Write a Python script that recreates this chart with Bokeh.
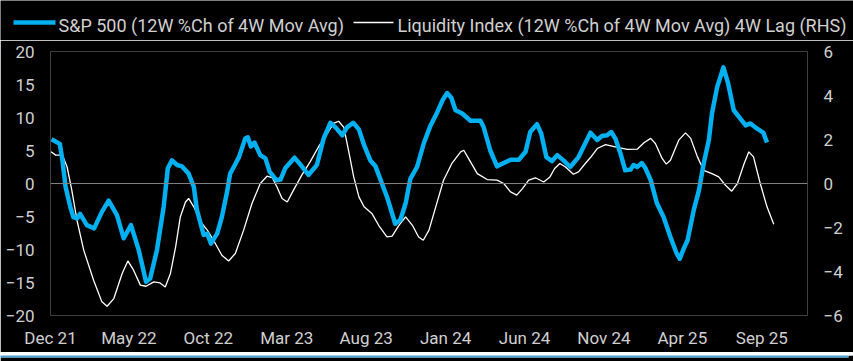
import pandas as pd
from bokeh.plotting import figure
from bokeh.models import (Range1d, LinearAxis, FixedTicker, DatetimeTickFormatter, Span)
from bokeh.core.properties import value
from bokeh.embed import file_html
from bokeh.resources import INLINE

# ---- data ----
spx_dates = [
    "2021-12-03", "2021-12-19", "2021-12-24", "2021-12-30", "2022-01-08", "2022-01-14",
    "2022-01-21", "2022-01-27", "2022-02-09", "2022-02-23", "2022-03-10", "2022-03-23",
    "2022-04-08", "2022-04-21", "2022-05-05", "2022-05-20", "2022-06-03", "2022-06-11",
    "2022-06-24", "2022-07-07", "2022-07-15", "2022-07-23", "2022-08-02", "2022-08-11",
    "2022-08-24", "2022-09-03", "2022-09-09", "2022-09-22", "2022-09-29", "2022-10-06",
    "2022-10-18", "2022-10-27", "2022-11-06", "2022-11-12", "2022-11-19", "2022-11-29",
    "2022-12-11", "2022-12-16", "2022-12-22", "2022-12-29", "2023-01-09", "2023-01-19",
    "2023-01-27", "2023-02-09", "2023-02-17", "2023-02-26", "2023-03-16", "2023-03-27",
    "2023-04-12", "2023-04-28", "2023-05-11", "2023-05-24", "2023-06-03", "2023-06-16",
    "2023-06-25", "2023-07-07", "2023-07-18", "2023-07-28", "2023-08-09", "2023-08-19",
    "2023-08-29", "2023-09-10", "2023-09-26", "2023-10-06", "2023-10-16", "2023-10-25",
    "2023-11-07", "2023-11-20", "2023-12-03", "2023-12-16", "2023-12-26", "2024-01-04",
    "2024-01-12", "2024-01-20", "2024-02-02", "2024-02-18", "2024-03-08", "2024-03-14",
    "2024-03-27", "2024-04-09", "2024-04-22", "2024-05-05", "2024-05-21", "2024-06-03",
    "2024-06-12", "2024-06-25", "2024-07-03", "2024-07-13", "2024-07-24", "2024-08-03",
    "2024-08-15", "2024-08-28", "2024-09-13", "2024-09-26", "2024-10-06", "2024-10-19",
    "2024-10-28", "2024-11-07", "2024-11-15", "2024-11-23", "2024-12-03", "2024-12-12",
    "2024-12-22", "2024-12-28", "2025-01-04", "2025-01-13", "2025-01-20", "2025-01-30",
    "2025-02-11", "2025-02-24", "2025-03-09", "2025-03-21", "2025-03-27", "2025-04-04",
    "2025-04-11", "2025-04-23", "2025-05-03", "2025-05-12", "2025-05-22", "2025-05-28",
    "2025-06-07", "2025-06-19", "2025-06-28", "2025-07-09", "2025-07-22", "2025-08-01",
    "2025-08-10", "2025-08-23", "2025-09-04", "2025-09-11",
]
spx_values = [
    6.7, 6.0, 3.5, -0.5, -3.5, -5.1,
    -5.3, -4.6, -6.3, -6.8, -4.3, -2.6,
    -4.8, -8.3, -6.3, -10.1, -14.9, -14.4,
    -10.1, -3.5, 2.3, 3.5, 2.8, 2.6,
    1.5, -0.5, -4.0, -7.8, -7.6, -9.1,
    -7.6, -5.1, -1.3, 1.5, 2.5, 4.0,
    6.8, 7.0, 5.6, 6.2, 4.3, 3.8,
    1.8, 0.5, 0.6, 2.3, 3.9, 2.9,
    1.3, 2.8, 6.8, 9.2, 8.5, 7.3,
    8.5, 9.2, 8.2, 5.8, 3.5, 2.6,
    0.5, -2.0, -6.1, -5.5, -3.0, 0.7,
    2.5, 6.1, 8.8, 10.8, 12.6, 13.7,
    13.0, 11.1, 10.6, 9.5, 9.5, 8.6,
    5.0, 2.6, 3.1, 3.6, 3.6, 4.8,
    7.8, 9.0, 7.6, 4.0, 3.4, 4.3,
    3.5, 2.5, 4.0, 6.1, 7.7, 6.6,
    7.2, 7.3, 7.8, 6.8, 4.5, 2.0,
    2.1, 2.8, 2.5, 3.1, 2.3, 0.5,
    -3.0, -5.1, -8.1, -10.6, -11.4, -9.8,
    -8.6, -4.0, -1.0, 3.0, 6.6, 10.6,
    14.6, 17.6, 15.2, 11.1, 9.8, 8.8,
    9.1, 8.3, 7.7, 6.2,
]

liq_dates = [
    "2021-12-02", "2021-12-11", "2021-12-24", "2022-01-02", "2022-01-11", "2022-01-21",
    "2022-02-03", "2022-02-22", "2022-03-10", "2022-03-20", "2022-04-02", "2022-04-18",
    "2022-04-29", "2022-05-10", "2022-05-23", "2022-06-03", "2022-06-18", "2022-06-30",
    "2022-07-10", "2022-07-20", "2022-07-30", "2022-08-08", "2022-08-18", "2022-08-24",
    "2022-09-03", "2022-09-16", "2022-09-29", "2022-10-11", "2022-10-27", "2022-11-09",
    "2022-11-22", "2022-12-08", "2022-12-24", "2023-01-09", "2023-01-22", "2023-02-01",
    "2023-02-10", "2023-02-20", "2023-03-02", "2023-03-14", "2023-03-30", "2023-04-15",
    "2023-05-01", "2023-05-18", "2023-05-30", "2023-06-09", "2023-06-19", "2023-06-28",
    "2023-07-08", "2023-07-18", "2023-07-28", "2023-08-12", "2023-08-25", "2023-09-10",
    "2023-09-20", "2023-10-03", "2023-10-16", "2023-10-29", "2023-11-10", "2023-11-19",
    "2023-11-30", "2023-12-12", "2023-12-28", "2024-01-13", "2024-01-30", "2024-02-05",
    "2024-02-14", "2024-03-02", "2024-03-21", "2024-04-09", "2024-04-22", "2024-05-05",
    "2024-05-17", "2024-05-28", "2024-06-09", "2024-06-22", "2024-07-08", "2024-07-20",
    "2024-07-29", "2024-08-08", "2024-08-19", "2024-09-03", "2024-09-13", "2024-09-26",
    "2024-10-06", "2024-10-19", "2024-11-04", "2024-11-27", "2024-12-16", "2025-01-04",
    "2025-01-17", "2025-01-30", "2025-02-08", "2025-02-21", "2025-03-01", "2025-03-09",
    "2025-03-25", "2025-04-07", "2025-04-17", "2025-04-30", "2025-05-12", "2025-05-28",
    "2025-06-10", "2025-06-23", "2025-07-05", "2025-07-16", "2025-07-29", "2025-08-07",
    "2025-08-16", "2025-08-29", "2025-09-11", "2025-09-24",
]
liq_values = [
    1.44, 1.29, 1.29, 0.75, -0.30, -1.67,
    -3.03, -4.40, -5.38, -5.58, -5.23, -4.09,
    -3.52, -3.94, -4.62, -4.67, -4.47, -4.52,
    -4.70, -4.09, -2.88, -1.52, -0.84, -0.68,
    -1.06, -1.74, -2.12, -2.58, -3.26, -3.52,
    -3.18, -2.12, -0.91, 0.00, 0.33, 0.27,
    -0.15, -0.68, -0.84, -0.30, 0.38, 0.98,
    1.66, 2.27, 2.73, 2.83, 2.55, 1.51,
    0.30, -0.61, -1.06, -1.36, -1.90, -2.43,
    -2.39, -1.90, -1.52, -1.90, -2.43, -2.58,
    -2.12, -1.14, 0.15, 0.91, 1.44, 1.51,
    1.14, 0.45, 0.18, 0.15, 0.00, -0.38,
    -0.53, -0.23, 0.15, 0.26, 0.07, 0.30,
    0.68, 0.91, 0.75, 0.42, 0.53, 0.91,
    1.18, 1.59, 1.77, 1.64, 1.55, 1.56,
    1.85, 2.05, 1.82, 1.14, 0.88, 1.06,
    1.97, 2.30, 2.05, 1.21, 0.60, 0.45,
    0.30, -0.08, -0.35, 0.00, 0.91, 1.44,
    1.21, 0.00, -1.06, -1.85,
]

x_tick_dates = ["2021-12-01", "2022-05-01", "2022-10-01", "2023-03-01", "2023-08-01",
                "2024-01-01", "2024-06-01", "2024-11-01", "2025-04-01", "2025-09-01"]
left_ticks = [-20, -15, -10, -5, 0, 5, 10, 15, 20]
right_ticks = [-6, -4, -2, 0, 2, 4, 6]

series_labels = ["S&P 500 (12W %Ch of 4W Mov Avg)",
                 "Liquidity Index (12W %Ch of 4W Mov Avg) 4W Lag (RHS)"]

# ---- styling / layout constants ----
BLUE = "#00b0f0"
TXT = "#d0d0d0"
FONT = "Roboto"
FS = "17px"
LEG_FS = "18px"
SPX_W = 4.5
LIQ_W = 1.3
series_colors = [BLUE, "white"]
series_widths = [SPX_W, LIQ_W]
# legend strip layout (pixels within the 853 x 40 strip)
STRIP_H = 40
key_x0 = [13, 353]
key_x1 = [55, 393]
key_text_x = [58, 397]
key_line_y = 22
key_text_y = 24.5

spx_x = pd.to_datetime(spx_dates)
liq_x = pd.to_datetime(liq_dates)

# ---- legend strip (separate root so it is not frame-aligned with the chart) ----
leg = figure(width=853, height=STRIP_H, x_range=Range1d(0, 853), y_range=Range1d(STRIP_H, 0),
             output_backend="svg", toolbar_location=None,
             x_axis_location=None, y_axis_location=None,
             background_fill_color="black", border_fill_color="black",
             min_border=0)
leg.outline_line_color = None
leg.grid.visible = False
for i in range(2):
    leg.segment(x0=[key_x0[i]], x1=[key_x1[i]], y0=[key_line_y], y1=[key_line_y],
                line_color=series_colors[i], line_width=series_widths[i])
leg.text(x=key_text_x, y=[key_text_y] * 2, text=series_labels,
         text_color=TXT, text_font=value(FONT), text_font_size=value(LEG_FS),
         text_align="left", text_baseline="alphabetic")

# ---- main chart ----
p = figure(width=853, height=312, x_axis_type="datetime",
           x_range=Range1d(pd.Timestamp("2021-12-01"), pd.Timestamp("2025-11-28")),
           y_range=Range1d(-20, 20),
           output_backend="svg", toolbar_location=None,
           background_fill_color="black", border_fill_color="black",
           min_border_left=50, min_border_right=46, min_border_top=11, min_border_bottom=37)
p.outline_line_color = None
p.grid.visible = False
p.extra_y_ranges = {"rhs": Range1d(-6, 6)}

zero = Span(location=0, dimension="width", line_color="#808080", line_width=1)
p.add_layout(zero)

p.line(liq_x, liq_values, y_range_name="rhs", line_color="white", line_width=LIQ_W)
p.line(spx_x, spx_values, line_color=BLUE, line_width=SPX_W, line_join="round")

def style_axis(ax):
    ax.axis_line_color = None
    ax.major_tick_line_color = None
    ax.minor_tick_line_color = None
    ax.major_tick_out = 0
    ax.major_tick_in = 0
    ax.minor_tick_out = 0
    ax.major_label_text_color = TXT
    ax.major_label_text_font = FONT
    ax.major_label_text_font_size = FS

xa = p.xaxis[0]
xa.ticker = FixedTicker(ticks=[pd.Timestamp(d).value / 1e6 for d in x_tick_dates])
fmt = "%b %y"
xa.formatter = DatetimeTickFormatter(days=fmt, months=fmt, years=fmt, hours=fmt,
                                     minutes=fmt, seconds=fmt, milliseconds=fmt,
                                     microseconds=fmt, minsec=fmt, hourmin=fmt)
style_axis(xa)
xa.major_label_standoff = 12

ya = p.yaxis[0]
ya.ticker = FixedTicker(ticks=left_ticks)
style_axis(ya)
ya.major_label_standoff = 16

ra = LinearAxis(y_range_name="rhs", ticker=FixedTicker(ticks=right_ticks))
style_axis(ra)
ra.major_label_standoff = 16
p.add_layout(ra, "right")

# ---- thin blue rule under the chart (frame is the 2px rule, rest is black border) ----
rule = figure(width=853, height=9, output_backend="svg", toolbar_location=None,
              x_axis_location=None, y_axis_location=None,
              background_fill_color="#4a9fd5", border_fill_color="black",
              min_border_left=0, min_border_right=5, min_border_top=0, min_border_bottom=7)
rule.outline_line_color = None
rule.grid.visible = False

open("out.html", "w").write(file_html([leg, p, rule], INLINE))
